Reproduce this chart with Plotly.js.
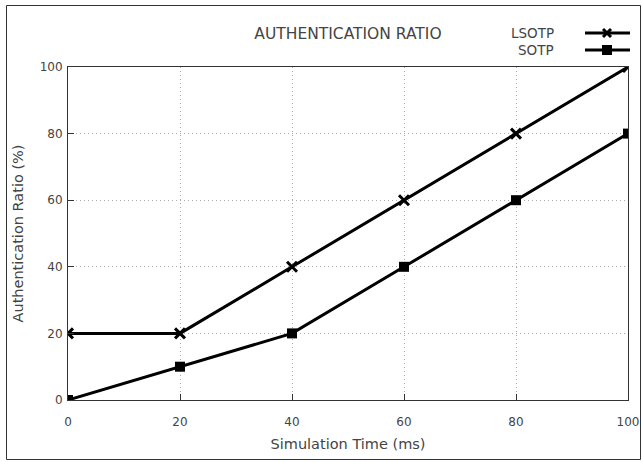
<!DOCTYPE html>
<html><head><meta charset="utf-8">
<script src="https://cdn.plot.ly/plotly-3.0.1.min.js"></script>
<style>html,body{margin:0;padding:0;background:#fff}</style>
</head><body><div id="chart" style="width:642px;height:462px"></div>
<script>
const simTime = [0, 20, 40, 60, 80, 100];
const lsotp = [20, 20, 40, 60, 80, 100];
const sotp = [0, 10, 20, 40, 60, 80];
const seriesNames = ['LSOTP', 'SOTP'];
const tickVals = [0, 20, 40, 60, 80, 100];

const FONT = 'DejaVu Sans, sans-serif';
const TXT = '#444';

const traces = [
  {x: simTime, y: lsotp, name: seriesNames[0], mode: 'lines+markers',
   line: {color: '#000', width: 3}, marker: {symbol: 'x-thin', size: 10, color: '#000', line: {width: 3, color: '#000'}}},
  {x: simTime, y: sotp, name: seriesNames[1], mode: 'lines+markers',
   line: {color: '#000', width: 3}, marker: {symbol: 'square', size: 10, color: '#000'}}
];

function px2x(p){ return (p - 68) / 560; }
function px2y(p){ return (400 - p) / 333; }

const shapes = [
  {type: 'rect', xref: 'paper', yref: 'paper', x0: px2x(6.5), x1: px2x(640.5), y0: px2y(5.5), y1: px2y(459.5),
   line: {color: '#333', width: 1}, layer: 'below'}
];
const annotations = [];
const legY = [33, 50];
seriesNames.forEach((n, i) => {
  annotations.push({xref: 'paper', yref: 'paper', x: px2x(556), y: px2y(legY[i]), xanchor: 'right', yanchor: 'middle',
    text: n, showarrow: false, font: {family: FONT, size: 13.5, color: TXT}});
  shapes.push({type: 'line', xref: 'paper', yref: 'paper', x0: px2x(585), x1: px2x(630), y0: px2y(legY[i]), y1: px2y(legY[i]),
    line: {color: '#000', width: 3}});
  const cx = px2x(607), cy = px2y(legY[i]);
  if (i === 1) {
    shapes.push({type: 'rect', xref: 'paper', yref: 'paper', xsizemode: 'pixel', ysizemode: 'pixel', xanchor: cx, yanchor: cy,
      x0: -5, x1: 5, y0: -5, y1: 5, fillcolor: '#000', line: {width: 0}});
  } else {
    shapes.push({type: 'line', xref: 'paper', yref: 'paper', xsizemode: 'pixel', ysizemode: 'pixel', xanchor: cx, yanchor: cy,
      x0: -4, x1: 4, y0: -4, y1: 4, line: {color: '#000', width: 3}});
    shapes.push({type: 'line', xref: 'paper', yref: 'paper', xsizemode: 'pixel', ysizemode: 'pixel', xanchor: cx, yanchor: cy,
      x0: -4, x1: 4, y0: 4, y1: -4, line: {color: '#000', width: 3}});
  }
});

const axisCommon = {
  tickvals: tickVals, ticks: 'inside', ticklen: 6, tickcolor: '#333', tickwidth: 1,
  showline: true, mirror: true, linecolor: '#333', linewidth: 1,
  showgrid: true, gridcolor: '#aaa', griddash: '1px,3px', gridwidth: 1,
  zeroline: false, tickfont: {family: FONT, size: 12, color: TXT}
};

const layout = {
  width: 642, height: 462,
  margin: {l: 68, r: 14, t: 67, b: 62},
  paper_bgcolor: '#fff', plot_bgcolor: '#fff',
  showlegend: false,
  title: {text: 'AUTHENTICATION RATIO', x: 0.542, xanchor: 'center', y: 0.928, yanchor: 'middle',
    font: {family: FONT, size: 15.5, color: TXT}},
  xaxis: Object.assign({}, axisCommon, {range: [0, 100], ticklabelstandoff: 11,
    title: {text: 'Simulation Time (ms)', standoff: 10, font: {family: FONT, size: 14.5, color: TXT}}}),
  yaxis: Object.assign({}, axisCommon, {range: [0, 100], ticklabelstandoff: 2,
    title: {text: 'Authentication Ratio (%)', standoff: 12, font: {family: FONT, size: 14.5, color: TXT}}}),
  shapes: shapes, annotations: annotations
};

Plotly.newPlot('chart', traces, layout, {displayModeBar: false, staticPlot: true});
</script></body></html>
